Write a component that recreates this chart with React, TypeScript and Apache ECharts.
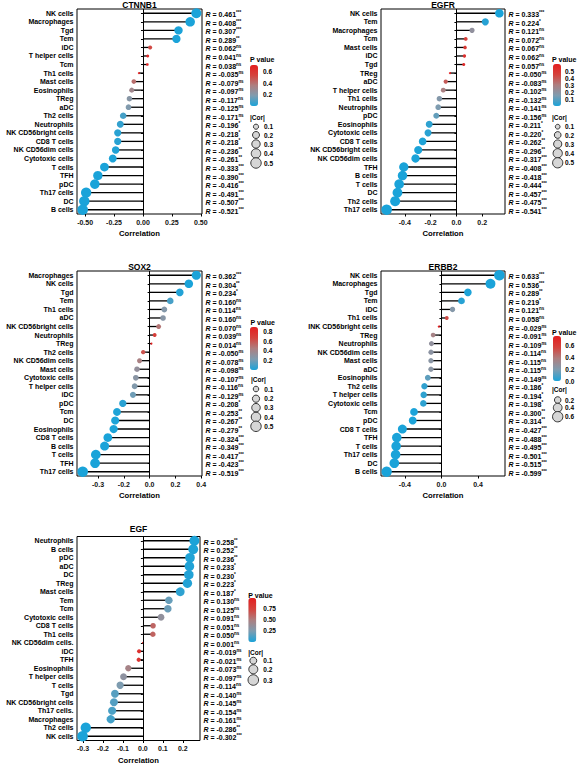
import React, { useEffect, useRef } from "react";
import * as echarts from "echarts";

const FONT = "'Liberation Sans', Arial, Helvetica, sans-serif";

// ---------- CTNNB1 ----------
const ctnnb1Cells = ["NK cells","Macrophages","Tgd","Tem","iDC","T helper cells","Tcm","Th1 cells","Mast cells","Eosinophils","TReg","aDC","Th2 cells","Neutrophils","NK CD56bright cells","CD8 T cells","NK CD56dim cells","Cytotoxic cells","T cells","TFH","pDC","Th17 cells","DC","B cells"];
const ctnnb1R = [0.461,0.408,0.307,0.289,0.062,0.041,0.038,-0.035,-0.079,-0.097,-0.117,-0.125,-0.171,-0.196,-0.218,-0.218,-0.236,-0.261,-0.333,-0.390,-0.416,-0.491,-0.507,-0.521];
const ctnnb1Sig = ["***","***","***","**","ns","ns","ns","ns","ns","ns","ns","ns","ns","*","*","*","**","**","***","***","***","***","***","***"];
const ctnnb1P = [0.0001,0.0001,0.001,0.002,0.52,0.67,0.69,0.72,0.41,0.31,0.22,0.19,0.08,0.045,0.025,0.025,0.013,0.006,0.0005,0.0001,0,0,0,0];
const ctnnb1XTicks = [-0.5,-0.25,0,0.25,0.5];
const ctnnb1XLabels = ["-0.50","-0.25","0.00","0.25","0.50"];
const ctnnb1PTicks = [0.2,0.4,0.6];
const ctnnb1PLabels = ["0.2","0.4","0.6"];
const ctnnb1CorTicks = [0.1,0.2,0.3,0.4,0.5];

// ---------- EGFR ----------
const egfrCells = ["NK cells","Tem","Macrophages","Tcm","Mast cells","iDC","Tgd","TReg","aDC","T helper cells","Th1 cells","Neutrophils","pDC","Eosinophils","Cytotoxic cells","CD8 T cells","NK CD56bright cells","NK CD56dim cells","TFH","B cells","T cells","DC","Th2 cells","Th17 cells"];
const egfrR = [0.333,0.224,0.121,0.072,0.067,0.062,0.057,-0.050,-0.083,-0.102,-0.132,-0.141,-0.156,-0.211,-0.220,-0.262,-0.296,-0.317,-0.408,-0.418,-0.444,-0.457,-0.475,-0.541];
const egfrSig = ["***","*","ns","ns","ns","ns","ns","ns","ns","ns","ns","ns","ns","*","*","**","**","***","***","***","***","***","***","***"];
const egfrP = [0.0005,0.02,0.21,0.46,0.49,0.52,0.56,0.60,0.39,0.29,0.17,0.15,0.11,0.03,0.022,0.006,0.002,0.0008,0,0,0,0,0,0];
const egfrXTicks = [-0.4,-0.2,0,0.2];
const egfrXLabels = ["-0.4","-0.2","0.0","0.2"];
const egfrPTicks = [0.1,0.2,0.3,0.4,0.5];
const egfrPLabels = ["0.1","0.2","0.3","0.4","0.5"];
const egfrCorTicks = [0.1,0.2,0.3,0.4,0.5];

// ---------- SOX2 ----------
const sox2Cells = ["Macrophages","NK cells","Tgd","Tem","Th1 cells","aDC","NK CD56bright cells","Neutrophils","TReg","Th2 cells","NK CD56dim cells","Mast cells","Cytotoxic cells","T helper cells","iDC","pDC","Tcm","DC","Eosinophils","CD8 T cells","B cells","T cells","TFH","Th17 cells"];
const sox2R = [0.362,0.304,0.234,0.160,0.114,0.160,0.070,0.039,0.014,-0.050,-0.078,-0.098,-0.107,-0.116,-0.129,-0.208,-0.253,-0.267,-0.279,-0.324,-0.349,-0.417,-0.423,-0.519];
// dot positions as drawn (aDC dot sits at ~0.10 although labelled 0.160)
const sox2Plot = [0.362,0.304,0.234,0.160,0.114,0.104,0.070,0.039,0.014,-0.050,-0.078,-0.098,-0.107,-0.116,-0.129,-0.208,-0.253,-0.267,-0.279,-0.324,-0.349,-0.417,-0.423,-0.519];
const sox2Sig = ["***","**","*","ns","ns","ns","ns","ns","ns","ns","ns","ns","ns","ns","ns","*","**","**","**","***","***","***","***","***"];
const sox2P = [0.0001,0.001,0.017,0.10,0.25,0.27,0.48,0.69,0.89,0.61,0.43,0.32,0.28,0.24,0.19,0.035,0.009,0.006,0.004,0.0006,0.0002,0,0,0];
const sox2XTicks = [-0.4,-0.2,0,0.2,0.4];
const sox2XLabels = ["-0.3","-0.2","0.0","0.2","0.4"];
const sox2PTicks = [0.2,0.4,0.6,0.8];
const sox2PLabels = ["0.2","0.4","0.6","0.8"];
const sox2CorTicks = [0.1,0.2,0.3,0.4,0.5];

// ---------- ERBB2 ----------
const erbb2Cells = ["NK cells","Macrophages","Tgd","Tem","iDC","Th1 cells","INK CD56bright cells","TReg","Neutrophils","NK CD56dim cells","Mast cells","aDC","Eosinophils","Th2 cells","T helper cells","Cytotoxic cells","Tcm","pDC","CD8 T cells","TFH","T cells","Th17 cells","DC","B cells"];
const erbb2R = [0.633,0.536,0.289,0.219,0.121,0.058,-0.029,-0.091,-0.109,-0.114,-0.115,-0.115,-0.149,-0.186,-0.194,-0.198,-0.300,-0.314,-0.427,-0.488,-0.495,-0.501,-0.515,-0.599];
const erbb2Sig = ["***","***","**","*","ns","ns","ns","ns","ns","ns","ns","ns","ns","*","*","*","**","**","***","***","***","***","***","***"];
const erbb2P = [0,0,0.003,0.025,0.22,0.55,0.77,0.36,0.27,0.25,0.24,0.24,0.13,0.045,0.04,0.038,0.002,0.001,0,0,0,0,0,0];
const erbb2XTicks = [-0.4,0,0.4];
const erbb2XLabels = ["-0.4","0.0","0.4"];
const erbb2PTicks = [0,0.2,0.4,0.6];
const erbb2PLabels = ["0.0","0.2","0.4","0.6"];
const erbb2CorTicks = [0.2,0.4,0.6];

// ---------- EGF ----------
const egfCells = ["Neutrophils","B cells","pDC","aDC","DC","TReg","Mast cells","Tem","Tcm","Cytotoxic cells","CD8 T cells","Th1 cells","NK CD56dim cells.","iDC","TFH","Eosinophils","T helper cells","T cells","Tgd","NK CD56bright cells","Th17 cells.","Macrophages","Th2 cells","NK cells"];
const egfR = [0.258,0.252,0.236,0.233,0.230,0.223,0.187,0.130,0.125,0.091,0.051,0.050,0.001,-0.019,-0.021,-0.073,-0.097,-0.114,-0.140,-0.145,-0.154,-0.161,-0.286,-0.302];
const egfSig = ["**","**","**","*","*","*","*","ns","ns","ns","ns","ns","ns","ns","ns","ns","ns","ns","ns","ns","ns","ns","**","***"];
const egfP = [0.008,0.010,0.016,0.018,0.019,0.023,0.05,0.19,0.20,0.35,0.60,0.61,0.99,0.85,0.83,0.46,0.33,0.25,0.15,0.14,0.12,0.10,0.003,0.001];
const egfXTicks = [-0.3,-0.2,-0.1,0,0.1,0.2];
const egfXLabels = ["-0.3","-0.2","-0.1","0.0","0.1","0.2"];
const egfPTicks = [0.25,0.5,0.75];
const egfPLabels = ["0.25","0.50","0.75"];
const egfCorTicks = [0.1,0.2,0.3];

const PALETTE = ["#1AA3D9", "#7E9CB0", "#AD7F80", "#D5423C", "#E41E1F"];

type Panel = {
  title: string; cells: string[]; r: number[]; plot: number[]; sig: string[]; p: number[];
  xTicks: number[]; xLabels: string[]; pTicks: number[]; pLabels: string[]; corTicks: number[];
  grid: { left: number; top: number; width: number; height: number };
  titleY: number;
  lg: { pvX: number; pvY: number; barX: number; barY: number; barH: number; tickX: number; corX: number; corY: number; circX: number; circYs: number[]; labX: number };
};

const panels: Panel[] = [
  {
    title: "CTNNB1", cells: ctnnb1Cells, r: ctnnb1R, plot: ctnnb1R, sig: ctnnb1Sig, p: ctnnb1P,
    xTicks: ctnnb1XTicks, xLabels: ctnnb1XLabels, pTicks: ctnnb1PTicks, pLabels: ctnnb1PLabels, corTicks: ctnnb1CorTicks,
    grid: { left: 77, top: 9, width: 125, height: 205 }, titleY: 4.5,
    lg: { pvX: 250, pvY: 59.5, barX: 250, barY: 65, barH: 41, tickX: 263, corX: 250, corY: 117, circX: 256, circYs: [126.7, 135, 144, 153.5, 163], labX: 264 },
  },
  {
    title: "EGFR", cells: egfrCells, r: egfrR, plot: egfrR, sig: egfrSig, p: egfrP,
    xTicks: egfrXTicks, xLabels: egfrXLabels, pTicks: egfrPTicks, pLabels: egfrPLabels, corTicks: egfrCorTicks,
    grid: { left: 381, top: 9, width: 124, height: 205 }, titleY: 4.5,
    lg: { pvX: 552, pvY: 59.5, barX: 553, barY: 64, barH: 42, tickX: 565, corX: 552, corY: 117.3, circX: 557.7, circYs: [126.7, 135, 144, 153.3, 162.8], labX: 565 },
  },
  {
    title: "SOX2", cells: sox2Cells, r: sox2R, plot: sox2Plot, sig: sox2Sig, p: sox2P,
    xTicks: sox2XTicks, xLabels: sox2XLabels, pTicks: sox2PTicks, pLabels: sox2PLabels, corTicks: sox2CorTicks,
    grid: { left: 77, top: 271, width: 125, height: 205 }, titleY: 267,
    lg: { pvX: 250.5, pvY: 322.7, barX: 250, barY: 327, barH: 43, tickX: 263.3, corX: 251, corY: 379.3, circX: 256, circYs: [389, 398.7, 407.7, 417, 426.3], labX: 264.3 },
  },
  {
    title: "ERBB2", cells: erbb2Cells, r: erbb2R, plot: erbb2R, sig: erbb2Sig, p: erbb2P,
    xTicks: erbb2XTicks, xLabels: erbb2XLabels, pTicks: erbb2PTicks, pLabels: erbb2PLabels, corTicks: erbb2CorTicks,
    grid: { left: 381, top: 271, width: 124, height: 205 }, titleY: 267,
    lg: { pvX: 552, pvY: 332, barX: 553, barY: 336, barH: 45, tickX: 565.3, corX: 552, corY: 389.5, circX: 557.7, circYs: [400, 407.7, 416.7], labX: 565 },
  },
  {
    title: "EGF", cells: egfCells, r: egfR, plot: egfR, sig: egfSig, p: egfP,
    xTicks: egfXTicks, xLabels: egfXLabels, pTicks: egfPTicks, pLabels: egfPLabels, corTicks: egfCorTicks,
    grid: { left: 77, top: 536.5, width: 123, height: 204 }, titleY: 529,
    lg: { pvX: 248.3, pvY: 595, barX: 248.3, barY: 598, barH: 44, tickX: 263.3, corX: 248.3, corY: 652.3, circX: 253.3, circYs: [660.7, 669.3, 680], labX: 263.3 },
  },
];

function buildOption() {
  const grids: any[] = [];
  const xAxes: any[] = [];
  const yAxes: any[] = [];
  const series: any[] = [];
  const visualMaps: any[] = [];
  const graphics: any[] = [];

  panels.forEach((pn, k) => {
    const lo = Math.min(0, ...pn.plot);
    const hi = Math.max(0, ...pn.plot);
    const span = hi - lo;
    const xmin = lo - 0.05 * span;
    const xmax = hi + 0.05 * span;
    const abs = pn.plot.map((v) => Math.abs(v));
    const amin = Math.min(...abs);
    const amax = Math.max(...abs);
    const size = (a: number) => {
      const t = Math.max(0, (a - amin) / (amax - amin));
      return 2.0 + 8.6 * Math.sqrt(t);
    };
    const pmax = Math.max(...pn.p);

    grids.push({
      ...pn.grid, show: true, borderColor: "#000", borderWidth: 1, backgroundColor: "transparent",
      containLabel: false, outerBoundsMode: "none",
    });

    xAxes.push({
      gridIndex: k, type: "value", min: xmin, max: xmax,
      splitLine: { show: false }, axisLine: { show: false },
      axisTick: { show: true, length: 2.5, lineStyle: { color: "#000", width: 1 }, customValues: pn.xTicks },
      axisLabel: {
        customValues: pn.xTicks, fontSize: 7, fontWeight: "bold", color: "#111", margin: 4.5, fontFamily: FONT,
        formatter: (v: number) => {
          const i = pn.xTicks.findIndex((t) => Math.abs(t - v) < 1e-9);
          return i >= 0 ? pn.xLabels[i] : "";
        },
      },
      name: "Correlation", nameLocation: "middle", nameGap: 15.5,
      nameTextStyle: { fontSize: 7.7, fontWeight: "bold", color: "#000", fontFamily: FONT },
    });

    yAxes.push({
      gridIndex: k, type: "category", data: pn.cells, inverse: true,
      axisLine: { show: false }, splitLine: { show: false },
      axisTick: { show: true, alignWithLabel: true, length: 2, lineStyle: { color: "#000", width: 1 } },
      axisLabel: { interval: 0, fontSize: 7, fontWeight: "bold", color: "#000", margin: 3.5, fontFamily: FONT },
    });
    yAxes.push({
      gridIndex: k, type: "category", data: pn.cells, inverse: true, position: "right",
      axisLine: { show: false }, splitLine: { show: false }, axisTick: { show: false },
      axisLabel: {
        interval: 0, margin: 3.5, padding: [3, 0, 0, 0],
        formatter: (_v: string, i: number) => `{r|R}{v| = ${pn.r[i].toFixed(3)}}{s|${pn.sig[i]}}`,
        rich: {
          r: { fontStyle: "italic", fontWeight: "bold", fontSize: 7, lineHeight: 9, color: "#000", fontFamily: FONT },
          v: { fontWeight: "bold", fontSize: 7, lineHeight: 9, color: "#000", fontFamily: FONT },
          s: { fontWeight: "bold", fontSize: 4.5, lineHeight: 5, verticalAlign: "top", color: "#000", fontFamily: FONT },
        },
      },
    });

    series.push({
      type: "bar", xAxisIndex: k, yAxisIndex: 2 * k, data: pn.plot, barWidth: 1.3,
      itemStyle: { color: "#000" }, silent: true, z: 1,
      markLine: {
        silent: true, symbol: ["none", "none"], label: { show: false },
        lineStyle: { color: "#000", width: 1, type: "solid" },
        data: [{ xAxis: 0 }],
      },
    });
    series.push({
      type: "scatter", xAxisIndex: k, yAxisIndex: 2 * k, clip: false, z: 3,
      data: pn.plot.map((v, i) => [v, i, pn.p[i], Math.abs(v)]),
      symbol: "circle",
      symbolSize: (d: number[]) => size(d[3]),
      itemStyle: { opacity: 1 },
    });

    visualMaps.push({
      type: "continuous", seriesIndex: 2 * k + 1, dimension: 2, min: 0, max: pmax,
      inRange: { color: PALETTE }, show: true, calculable: false, orient: "vertical",
      left: pn.lg.barX, top: pn.lg.barY, itemWidth: 8, itemHeight: pn.lg.barH, padding: 0,
      hoverLink: false,
    });

    const lg = pn.lg;
    graphics.push({
      type: "text", x: pn.grid.left + pn.grid.width / 2, y: pn.titleY,
      style: { text: pn.title, font: `bold 8.5px ${FONT}`, fill: "#000", textAlign: "center", textVerticalAlign: "middle" },
    });
    graphics.push({
      type: "text", x: lg.pvX, y: lg.pvY,
      style: { text: "P value", font: `bold 7px ${FONT}`, fill: "#000", textAlign: "left", textVerticalAlign: "middle" },
    });
    pn.pTicks.forEach((v, i) => {
      const y = lg.barY + ((pmax - v) / pmax) * lg.barH;
      graphics.push({
        type: "text", x: lg.tickX, y,
        style: { text: pn.pLabels[i], font: `bold 6.5px ${FONT}`, fill: "#000", textAlign: "left", textVerticalAlign: "middle" },
      });
    });
    graphics.push({
      type: "text", x: lg.corX, y: lg.corY,
      style: { text: "|Cor|", font: `bold 6.5px ${FONT}`, fill: "#000", textAlign: "left", textVerticalAlign: "middle" },
    });
    pn.corTicks.forEach((v, i) => {
      graphics.push({
        type: "circle", shape: { cx: lg.circX, cy: lg.circYs[i], r: size(v) / 2 },
        style: { fill: "#D6D6D6", stroke: "#222", lineWidth: 0.9 },
      });
      graphics.push({
        type: "text", x: lg.labX, y: lg.circYs[i],
        style: { text: String(v), font: `bold 6.5px ${FONT}`, fill: "#000", textAlign: "left", textVerticalAlign: "middle" },
      });
    });
  });

  return {
    animation: false,
    backgroundColor: "#fff",
    textStyle: { fontFamily: FONT },
    grid: grids,
    xAxis: xAxes,
    yAxis: yAxes,
    series,
    visualMap: visualMaps,
    graphic: graphics,
  };
}

export default function App() {
  const ref = useRef<HTMLDivElement>(null);
  useEffect(() => {
    if (!ref.current) return;
    const chart = echarts.init(ref.current, null, { renderer: "svg" });
    chart.setOption(buildOption() as any);
    return () => chart.dispose();
  }, []);
  return (
    <div
      ref={ref}
      style={{ position: "fixed", left: 0, top: 0, width: 584, height: 768, background: "#fff" }}
    />
  );
}
